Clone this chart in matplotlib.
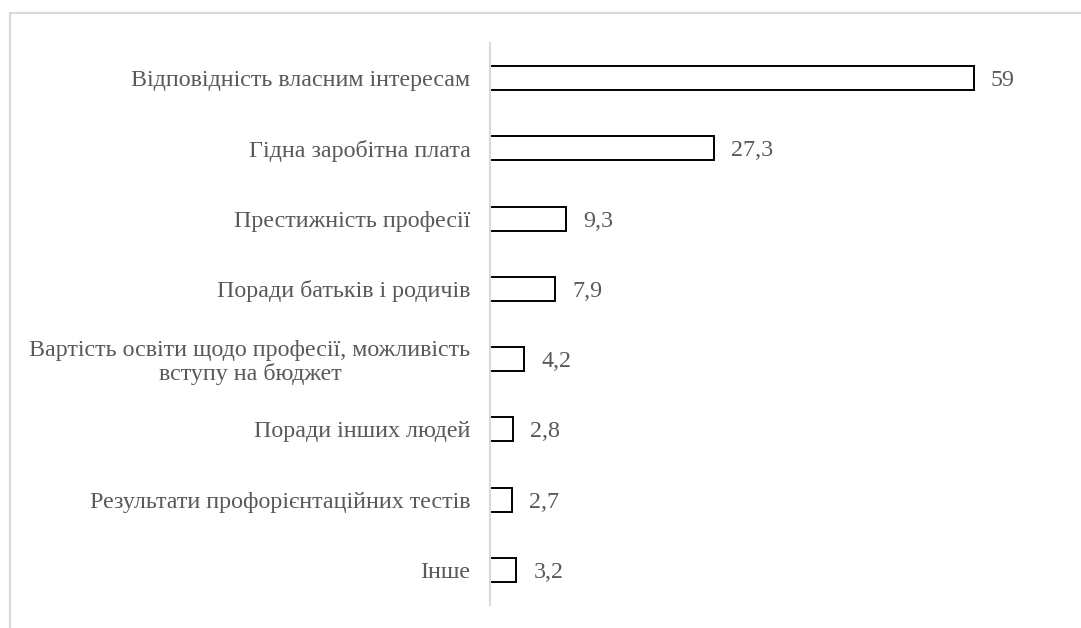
import matplotlib
matplotlib.use("Agg")
import matplotlib.pyplot as plt
from matplotlib.patches import Rectangle

# дані діаграми (зверху вниз)
categories = [
    "Відповідність власним інтересам",
    "Гідна заробітна плата",
    "Престижність професії",
    "Поради батьків і родичів",
    "Вартість освіти щодо професії, можливість\nвступу на бюджет",
    "Поради інших людей",
    "Результати профорієнтаційних тестів",
    "Інше",
]
values = [59, 27.3, 9.3, 7.9, 4.2, 2.8, 2.7, 3.2]
value_labels = ["59", "27,3", "9,3", "7,9", "4,2", "2,8", "2,7", "3,2"]

plt.rcParams["font.family"] = ["Liberation Serif", "DejaVu Serif"]
text_color = "#595959"
fs = 17.3

W, H = 1081, 628
fig = plt.figure(figsize=(W / 100, H / 100), dpi=100)

# світло-сіра рамка області діаграми
fig.patches.append(Rectangle((9.5 / W, -0.1), 1.2, 1 - 13.5 / H + 0.1,
                             transform=fig.transFigure, fill=False,
                             ec="#d9d9d9", lw=1.5))

ax = fig.add_axes([490 / W, 1 - 605 / H, 574 / W, 562 / H])
y = list(range(len(categories)))
bars = ax.barh(y, values, height=0.34, color="white", edgecolor="black", lw=1.4)
ax.set_ylim(len(categories) - 0.5, -0.5)
ax.set_xlim(0, 70)

for bar, lab in zip(bars, value_labels):
    ax.text(bar.get_width() + 2.1, bar.get_y() + bar.get_height() / 2, lab,
            va="center_baseline", ha="left", fontsize=fs, color=text_color)

ax.set_yticks(y)
ax.set_yticklabels(categories, fontsize=fs, color=text_color,
                   multialignment="center", linespacing=1.1)
ax.tick_params(axis="y", length=0, pad=14)
ax.set_xticks([])
for s in ["top", "right", "bottom"]:
    ax.spines[s].set_visible(False)
ax.spines["left"].set_color("#d9d9d9")
ax.spines["left"].set_linewidth(1.5)

fig.savefig("out.png", dpi=100)
